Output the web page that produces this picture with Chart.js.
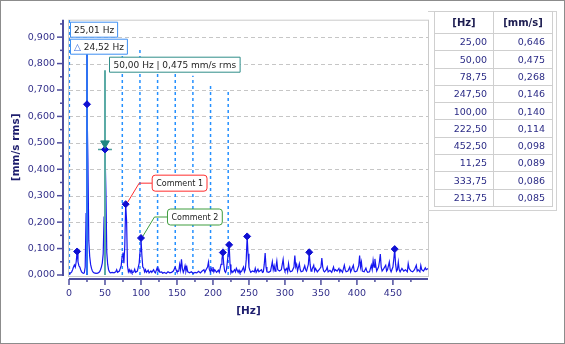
<!DOCTYPE html>
<html>
<head>
<meta charset="utf-8">
<script src="https://cdn.jsdelivr.net/npm/chart.js@4.4.3/dist/chart.umd.min.js"></script>
<style>
html, body { margin: 0; padding: 0; background: #fff; }
#frame { position: relative; width: 565px; height: 344px; overflow: hidden; background: #fff; }
#chart { position: absolute; left: 0; top: 0; }
#border { position: absolute; left: 0; top: 0; width: 565px; height: 344px; box-sizing: border-box; border: 1px solid #8c8c8c; pointer-events: none; }
#panel { position: absolute; left: 428px; top: 11px; width: 129px; height: 200px; box-sizing: border-box; border: 1px solid #d2d2d2; border-left: none; }
#peaks { position: absolute; left: 434px; top: 11px; width: 118px; border-collapse: collapse; table-layout: fixed; font-family: 'DejaVu Sans', sans-serif; }
#peaks th, #peaks td { border: 1px solid #cfcfcf; padding: 0; line-height: 1; }
#peaks th { height: 21px; font-size: 10px; font-weight: bold; color: #1c1c50; text-align: center; }
#peaks td { height: 16.3px; font-size: 9.5px; color: #2b2b86; text-align: right; }
#peaks td:first-child { padding-right: 6px; }
#peaks td:last-child { padding-right: 7px; }
</style>
</head>
<body>
<div id="frame">
  <canvas id="chart" width="565" height="344"></canvas>
  <div id="panel"></div>
  <table id="peaks">
    <colgroup><col style="width:59px"><col style="width:59px"></colgroup>
    <thead><tr><th>[Hz]</th><th>[mm/s]</th></tr></thead>
    <tbody></tbody>
  </table>
  <div id="border"></div>
</div>
<script>
// spectrum (Hz / mm/s rms)
const specHz = [
  0, 1.25, 2.5, 3.75, 5, 6.25, 7.5, 8.75, 10, 11.25, 12.5, 13.75, 15, 16.25, 17.5, 18.75, 20, 21.25, 22.5, 23.75,
  25, 26.25, 27.5, 28.75, 30, 31.25, 32.5, 33.75, 35, 37.5, 40, 42.5, 43.75, 45, 46.25, 47.5, 48.75,
  50, 51.25, 52.5, 53.75, 55, 56.25, 57.5, 60, 62.5, 65, 66.25, 67.5, 70, 71.25, 72.5, 73.75,
  75, 76.25, 77.5, 78.75, 80, 81.25, 82.5, 83.75, 85, 86.25, 87.5, 90, 91.25, 92.5, 95, 96.25, 97.5, 98.75,
  100, 101.25, 102.5, 103.75, 105, 106.25, 107.5, 110, 111.25, 113.75, 115, 117.5, 118.75, 120, 122.5, 123.75,
  125, 126.25, 128.75, 130, 132.5, 135, 137.5, 140, 142.5, 145, 147.5, 148.75,
  150, 152.5, 153.75, 155, 156.25, 157.5, 158.75, 160, 161.25, 162.5, 163.75, 165, 167.5, 170, 172.5,
  175, 177.5, 180, 182.5, 185, 187.5, 188.75, 190, 192.5, 193.75, 195, 196.25, 197.5, 198.75,
  200, 201.25, 202.5, 205, 207.5, 208.75, 210, 211.25, 212.5, 213.75, 215, 216.25, 217.5, 218.75, 220, 221.25, 222.5, 223.75,
  225, 226.25, 227.5, 230, 231.25, 232.5, 235, 236.25, 237.5, 240, 242.5, 243.75, 245, 246.25, 247.5, 248.75,
  250, 251.25, 252.5, 255, 257.5, 258.75, 260, 262.5, 263.75, 265, 267.5, 268.75, 270, 271.25, 272.5, 273.75,
  275, 277.5, 280, 282.5, 283.75, 285, 286.25, 287.5, 288.75, 290, 292.5, 295, 297.5, 298.75,
  300, 302.5, 303.75, 305, 306.25, 307.5, 310, 312.5, 313.75, 315, 316.25, 317.5, 320, 321.25, 322.5,
  325, 327.5, 328.75, 330, 332.5, 333.75, 335, 336.25, 337.5, 340, 341.25, 342.5, 345, 347.5,
  350, 351.25, 352.5, 353.75, 355, 357.5, 358.75, 360, 362.5, 365, 367.5, 368.75, 370, 372.5,
  375, 376.25, 377.5, 380, 382.5, 383.75, 385, 387.5, 390, 391.25, 392.5, 395, 396.25, 397.5,
  400, 402.5, 403.75, 405, 406.25, 407.5, 410, 412.5, 413.75, 415, 417.5, 420, 421.25, 422.5, 423.75,
  425, 426.25, 427.5, 430, 431.25, 432.5, 433.75, 435, 437.5, 440, 441.25, 442.5, 445, 446.25, 447.5,
  450, 451.25, 452.5, 453.75, 455, 456.25, 457.5, 458.75, 460, 462.5, 465, 467.5, 470, 471.25, 472.5,
  475, 477.5, 480, 482.5, 483.75, 485, 487.5, 488.75, 490, 492.5, 495, 496.25, 498.75
];
const specAmp = [
  0.004, 0.006, 0.008, 0.012, 0.020, 0.030, 0.038, 0.030, 0.050, 0.089, 0.050, 0.035, 0.030, 0.020, 0.012, 0.008, 0.006, 0.008, 0.030, 0.232,
  0.646, 0.440, 0.130, 0.070, 0.040, 0.025, 0.015, 0.010, 0.008, 0.006, 0.007, 0.012, 0.020, 0.030, 0.045, 0.080, 0.219,
  0.475, 0.321, 0.085, 0.040, 0.020, 0.012, 0.008, 0.010, 0.008, 0.012, 0.020, 0.010, 0.015, 0.025, 0.035, 0.070,
  0.085, 0.045, 0.110, 0.268, 0.205, 0.035, 0.012, 0.020, 0.010, 0.018, 0.008, 0.012, 0.022, 0.010, 0.015, 0.030, 0.045, 0.090,
  0.140, 0.075, 0.030, 0.026, 0.012, 0.020, 0.010, 0.018, 0.008, 0.015, 0.010, 0.020, 0.012, 0.008, 0.027, 0.015,
  0.020, 0.010, 0.012, 0.007, 0.010, 0.006, 0.012, 0.008, 0.010, 0.015, 0.030, 0.020,
  0.012, 0.015, 0.040, 0.020, 0.059, 0.025, 0.010, 0.020, 0.035, 0.015, 0.030, 0.012, 0.008, 0.012, 0.006,
  0.010, 0.008, 0.014, 0.008, 0.015, 0.020, 0.010, 0.018, 0.030, 0.049, 0.020, 0.012, 0.025, 0.015,
  0.030, 0.012, 0.020, 0.010, 0.018, 0.010, 0.025, 0.040, 0.060, 0.085, 0.040, 0.015, 0.010, 0.020, 0.050, 0.080, 0.114, 0.040,
  0.008, 0.015, 0.010, 0.020, 0.012, 0.025, 0.010, 0.018, 0.008, 0.015, 0.030, 0.012, 0.020, 0.060, 0.146, 0.080,
  0.030, 0.018, 0.010, 0.015, 0.012, 0.025, 0.010, 0.022, 0.012, 0.015, 0.020, 0.010, 0.012, 0.040, 0.083, 0.030,
  0.012, 0.010, 0.015, 0.050, 0.020, 0.035, 0.015, 0.030, 0.053, 0.020, 0.015, 0.020, 0.059, 0.025,
  0.015, 0.025, 0.012, 0.043, 0.020, 0.012, 0.015, 0.030, 0.074, 0.030, 0.040, 0.015, 0.043, 0.020, 0.012,
  0.015, 0.035, 0.020, 0.015, 0.040, 0.086, 0.040, 0.015, 0.020, 0.037, 0.015, 0.025, 0.012, 0.020,
  0.030, 0.064, 0.030, 0.015, 0.012, 0.020, 0.030, 0.012, 0.018, 0.010, 0.030, 0.015, 0.020, 0.015,
  0.025, 0.012, 0.020, 0.010, 0.037, 0.020, 0.012, 0.015, 0.030, 0.012, 0.020, 0.037, 0.015, 0.012,
  0.015, 0.035, 0.074, 0.030, 0.049, 0.015, 0.012, 0.026, 0.015, 0.010, 0.012, 0.037, 0.020, 0.055, 0.030,
  0.061, 0.035, 0.015, 0.030, 0.050, 0.079, 0.030, 0.015, 0.025, 0.037, 0.015, 0.020, 0.049, 0.020, 0.012,
  0.030, 0.060, 0.098, 0.040, 0.015, 0.020, 0.049, 0.020, 0.012, 0.025, 0.015, 0.020, 0.012, 0.043, 0.025,
  0.015, 0.012, 0.020, 0.037, 0.015, 0.020, 0.012, 0.036, 0.020, 0.015, 0.027, 0.020, 0.025
];

// peak table (also drawn as markers)
const peakHz = [25.00, 50.00, 78.75, 247.50, 100.00, 222.50, 452.50, 11.25, 333.75, 213.75];
const peakAmp = [0.646, 0.475, 0.268, 0.146, 0.140, 0.114, 0.098, 0.089, 0.086, 0.085];

// cursors
const cursorHz = 25.01;
const cursorTop = 0.839;
const deltaHz = 24.52;
const refHz = 50.00;
const refAmp = 0.475;
const refTop = 0.775;
const refMarkAmp = 0.498;
const refCross = [40.3, 59.7];

// harmonic cursor lines and how high each one reaches
const harmonicHz = [0.49, 74.05, 98.57, 123.09, 147.61, 172.13, 196.65, 221.17];
const harmonicTop = [0.966, 0.853, 0.853, 0.763, 0.765, 0.754, 0.721, 0.695];

// comments pinned on peaks
const commentText = ['Comment 1', 'Comment 2'];
const commentHz = [78.75, 100.00];
const commentAmp = [0.268, 0.140];

// axes
const xTicks = [0, 50, 100, 150, 200, 250, 300, 350, 400, 450];
const yTicks = [0, 0.1, 0.2, 0.3, 0.4, 0.5, 0.6, 0.7, 0.8, 0.9];
const xMax = 498.75;
const yMax = 0.966;

const FONT = "'DejaVu Sans', sans-serif";
const fmt = (v, d) => v.toFixed(d).replace('.', ',');

// table
const tbody = document.querySelector('#peaks tbody');
peakHz.forEach((hz, i) => {
    const tr = document.createElement('tr');
    tr.innerHTML = `<td>${fmt(hz, 2)}</td><td>${fmt(peakAmp[i], 3)}</td>`;
    tbody.appendChild(tr);
});

const harmonicPts = [];
harmonicHz.forEach((hz, i) => {
    harmonicPts.push({ x: hz, y: 0 }, { x: hz, y: harmonicTop[i] }, { x: hz, y: null });
});

function box(ctx, x, y, w, h, r, stroke) {
    ctx.beginPath();
    ctx.roundRect(x, y, w, h, r);
    ctx.fillStyle = '#ffffff';
    ctx.fill();
    ctx.lineWidth = 1;
    ctx.strokeStyle = stroke;
    ctx.stroke();
}

const deco = {
    id: 'deco',
    beforeDatasetsDraw(chart) {
        const { ctx, chartArea: a, scales: { y } } = chart;
        ctx.save();
        ctx.strokeStyle = '#c6c6c6';
        ctx.lineWidth = 1;
        ctx.setLineDash([4, 3]);
        for (const v of yTicks) {
            if (v === 0) continue;
            const py = Math.round(y.getPixelForValue(v)) + 0.5;
            ctx.beginPath();
            ctx.moveTo(a.left, py);
            ctx.lineTo(a.right, py);
            ctx.stroke();
        }
        ctx.setLineDash([]);
        ctx.strokeStyle = '#cacaca';
        ctx.strokeRect(a.left - 0.5, a.top + 0.5, a.right - a.left + 1, a.bottom - a.top + 1);
        ctx.restore();
    },
    afterDatasetsDraw(chart) {
        const { ctx, chartArea: a, scales: { x, y } } = chart;
        ctx.save();
        ctx.textBaseline = 'middle';

        // cursor readouts
        ctx.font = `9px ${FONT}`;
        const t1 = `${fmt(cursorHz, 2)} Hz`;
        const w1 = ctx.measureText(t1).width + 7;
        box(ctx, a.left + 1.5, a.top + 2.5, w1, 15, 0, '#3d8ff2');
        ctx.fillStyle = '#1e1e1e';
        ctx.fillText(t1, a.left + 5, a.top + 10.5);

        const tri = '\u25B3 ';
        const t2 = `${fmt(deltaHz, 2)} Hz`;
        const wTri = ctx.measureText(tri).width;
        const w2 = wTri + ctx.measureText(t2).width + 7;
        box(ctx, a.left + 1.5, a.top + 19.5, w2, 15, 0, '#3d8ff2');
        ctx.fillStyle = '#2a62d8';
        ctx.fillText(tri, a.left + 5, a.top + 27.5);
        ctx.fillStyle = '#1e1e1e';
        ctx.fillText(t2, a.left + 5 + wTri, a.top + 27.5);

        const t3 = `${fmt(refHz, 2)} Hz | ${fmt(refAmp, 3)} mm/s rms`;
        const w3 = ctx.measureText(t3).width + 8;
        const rx = x.getPixelForValue(refHz);
        box(ctx, Math.round(rx) + 4.5, a.top + 37.5, w3, 15, 0, '#2f8d89');
        ctx.fillStyle = '#1e1e1e';
        ctx.fillText(t3, Math.round(rx) + 8.5, a.top + 45.5);

        // comments
        const cColor = ['#ff2d2d', '#3f9d3f'];
        ctx.font = `8px ${FONT}`;
        commentText.forEach((txt, i) => {
            const px = x.getPixelForValue(commentHz[i]);
            const py = y.getPixelForValue(commentAmp[i]);
            const bx = px + 26.5, by = py - 29;
            const bw = ctx.measureText(txt).width + 8;
            ctx.beginPath();
            ctx.moveTo(px + 2, py - 2);
            ctx.lineTo(px + 13.5, py - 21);
            ctx.lineTo(bx, py - 21);
            ctx.strokeStyle = cColor[i];
            ctx.lineWidth = 1;
            ctx.stroke();
            box(ctx, bx, by, bw, 16, 3, cColor[i]);
            ctx.fillStyle = '#222222';
            ctx.fillText(txt, bx + 4, by + 8.5);
        });
        ctx.restore();
    },
    afterDraw(chart) {
        const { ctx, chartArea: a, scales: { x, y } } = chart;
        ctx.save();
        ctx.strokeStyle = '#4d4d9e';
        ctx.lineWidth = 2;
        // y axis, set off to the left
        const ax = a.left - 6;
        ctx.beginPath();
        ctx.moveTo(ax, a.top);
        ctx.lineTo(ax, a.bottom + 1);
        ctx.stroke();
        ctx.lineWidth = 1.5;
        for (let i = 0; i < yTicks.length; i++) {
            const py = y.getPixelForValue(yTicks[i]);
            ctx.beginPath();
            ctx.moveTo(ax - 6, py);
            ctx.lineTo(ax, py);
            ctx.stroke();
            const mid = y.getPixelForValue(yTicks[i] + 0.05);
            ctx.beginPath();
            ctx.moveTo(ax - 3, mid);
            ctx.lineTo(ax, mid);
            ctx.stroke();
        }
        // x axis, set off below
        const ay = a.bottom + 4;
        ctx.lineWidth = 2;
        ctx.beginPath();
        ctx.moveTo(a.left, ay);
        ctx.lineTo(a.right, ay);
        ctx.stroke();
        ctx.lineWidth = 1.5;
        for (let i = 0; i < xTicks.length; i++) {
            const px = x.getPixelForValue(xTicks[i]);
            ctx.beginPath();
            ctx.moveTo(px, ay);
            ctx.lineTo(px, ay + 6);
            ctx.stroke();
            const mid = x.getPixelForValue(xTicks[i] + 25);
            ctx.beginPath();
            ctx.moveTo(mid, ay);
            ctx.lineTo(mid, ay + 3);
            ctx.stroke();
        }
        ctx.restore();
    }
};

new Chart(document.getElementById('chart'), {
    type: 'line',
    data: {
        datasets: [
            {
                label: 'harmonics',
                data: harmonicPts,
                borderColor: '#2490ff',
                borderWidth: 1.5,
                borderDash: [3, 3],
                pointRadius: 0,
                fill: false,
                spanGaps: false,
                order: 6,
            },
            {
                label: 'spectrum',
                data: specHz.map((hz, i) => ({ x: hz, y: specAmp[i] })),
                borderColor: '#1616f0',
                borderWidth: 1.2,
                fill: false,
                pointRadius: 0,
                tension: 0,
                order: 5,
            },
            {
                label: 'cursor',
                data: [{ x: cursorHz, y: 0 }, { x: cursorHz, y: cursorTop }],
                borderColor: '#2f72f2',
                borderWidth: 2,
                pointRadius: 0,
                order: 4,
            },
            {
                label: 'reference',
                data: [{ x: refHz, y: 0 }, { x: refHz, y: refTop }],
                borderColor: '#5aaaa5',
                borderWidth: 2,
                pointRadius: 0,
                order: 3,
            },
            {
                label: 'reference level',
                data: [{ x: refCross[0], y: refAmp }, { x: refCross[1], y: refAmp }],
                borderColor: '#4e9f9a',
                borderWidth: 1.5,
                pointRadius: 0,
                order: 3,
            },
            {
                label: 'peaks',
                data: peakHz.map((hz, i) => ({ x: hz, y: peakAmp[i] })),
                showLine: false,
                pointStyle: 'rectRot',
                pointRadius: 3.5,
                pointBackgroundColor: '#0f0fd2',
                pointBorderColor: '#0f0fd2',
                pointBorderWidth: 1,
                order: 2,
            },
            {
                label: 'reference mark',
                data: [{ x: refHz, y: refMarkAmp }],
                showLine: false,
                pointStyle: 'triangle',
                rotation: 180,
                pointRadius: 5,
                pointBackgroundColor: '#1f8783',
                pointBorderColor: '#1f8783',
                order: 1,
            },
        ],
    },
    options: {
        responsive: false,
        animation: false,
        layout: { padding: { left: 0, right: 137, top: 11, bottom: 0 } },
        plugins: { legend: { display: false }, tooltip: { enabled: false } },
        scales: {
            x: {
                type: 'linear',
                min: 0,
                max: xMax,
                afterBuildTicks: (s) => { s.ticks = xTicks.map((v) => ({ value: v })); },
                afterFit: (s) => { s.height = 69; },
                grid: { display: false, drawTicks: false },
                border: { display: false },
                ticks: {
                    color: '#33308a',
                    font: { family: FONT, size: 9.5 },
                    padding: 13,
                    maxRotation: 0,
                    autoSkip: false,
                    callback: (v) => String(v),
                },
                title: {
                    display: true,
                    text: '[Hz]',
                    color: '#1e1e6e',
                    font: { family: FONT, size: 10.5, weight: 'bold' },
                    padding: { top: 0, bottom: 26 },
                },
            },
            y: {
                min: 0,
                max: yMax,
                afterBuildTicks: (s) => { s.ticks = yTicks.map((v) => ({ value: v })); },
                afterFit: (s) => { s.width = 69; },
                grid: { display: false, drawTicks: false },
                border: { display: false },
                ticks: {
                    color: '#33308a',
                    font: { family: FONT, size: 9.5 },
                    padding: 14,
                    callback: (v) => fmt(v, 3),
                },
                title: {
                    display: true,
                    text: '[mm/s rms]',
                    color: '#1e1e6e',
                    font: { family: FONT, size: 10.5, weight: 'bold' },
                    padding: { top: 10, bottom: 0 },
                },
            },
        },
    },
    plugins: [deco],
});
</script>
</body>
</html>
